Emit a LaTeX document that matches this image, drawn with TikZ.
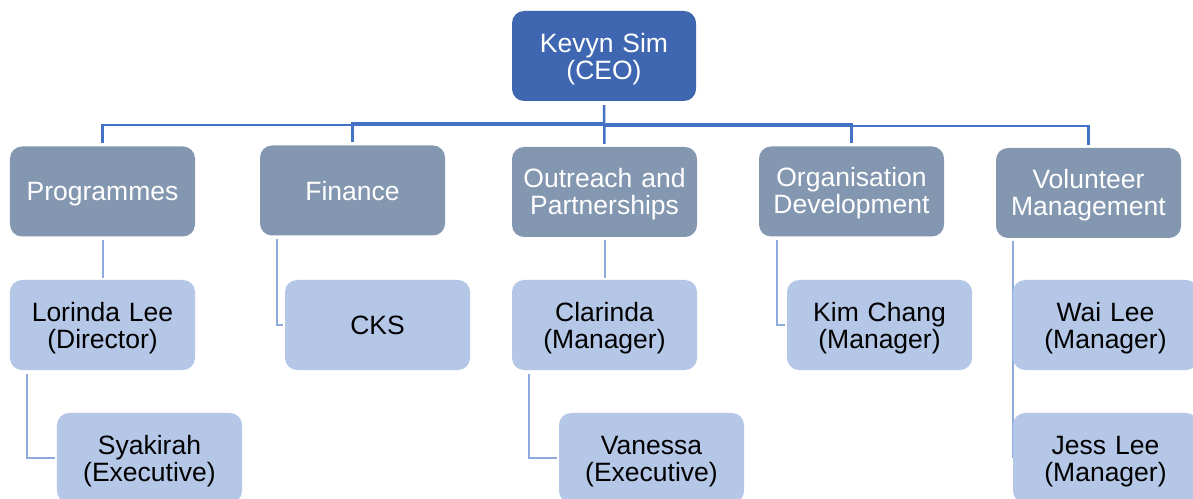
\documentclass[tikz,border=0pt]{standalone}
\usepackage{fontspec}
\setmainfont{Liberation Sans}
\usetikzlibrary{backgrounds,calc}
\definecolor{ceoblue}{HTML}{3F67B1}
\definecolor{deptgray}{HTML}{8497B0}
\definecolor{staffblue}{HTML}{B4C7E7}
\definecolor{linemain}{HTML}{4472C4}
\definecolor{linesub}{HTML}{8FAADC}
\begin{document}
\begin{tikzpicture}[x=1bp,y=-1bp,
  box/.style={rounded corners=12bp, minimum width=185bp, minimum height=90bp,
    text width=180bp, align=center, inner sep=0pt, text depth=26bp,
    font=\fontsize{26.5bp}{27bp}\selectfont},
  oneline/.style={text depth=-1bp},
  raised/.style={text depth=29bp},
  ceobox/.style={box, fill=ceoblue, text=white, minimum width=184bp},
  deptbox/.style={box, fill=deptgray, text=white},
  staffbox/.style={box, fill=staffblue, text=black},
  mainline/.style={draw=linemain, line width=2.5bp, shorten <=4bp, shorten >=3bp},
  subline/.style={draw=linesub, line width=2bp, shorten <=3bp, shorten >=2bp}]
\useasboundingbox (0,0) rectangle (1193,499);
\clip (0,0) rectangle (1193,499);

\node[ceobox] (ceo) at (604,56) {Kevyn Sim\\(CEO)};

\node[deptbox, oneline] (prog) at (102.5,191.5) {Programmes};
\node[deptbox, oneline] (fin) at (352.5,190.5) {Finance};
\node[deptbox, raised] (out) at (604.5,192) {Outreach and\\Partnerships};
\node[deptbox, raised] (org) at (851.5,191.5) {Organisation\\Development};
\node[deptbox, raised] (vol) at (1088.5,193) {Volunteer\\Management};

\node[staffbox] (lor) at (102.5,325) {Lorinda Lee\\(Director)};
\node[staffbox, oneline] (cks) at (377.5,325) {CKS};
\node[staffbox] (cla) at (604.5,325) {Clarinda\\(Manager)};
\node[staffbox] (kim) at (879.5,325) {Kim Chang\\(Manager)};
\node[staffbox] (wai) at (1105.5,325) {Wai Lee\\(Manager)};

\node[staffbox] (sya) at (149.5,458) {Syakirah\\(Executive)};
\node[staffbox] (van) at (651.5,458) {Vanessa\\(Executive)};
\node[staffbox] (jess) at (1105.5,458) {Jess Lee\\(Manager)};

\begin{pgfonlayer}{background}
  \fill[white] (0,0) rectangle (1193,499);
  % CEO to departments
  \draw[mainline] (ceo.south) -- (ceo.south |- 0,125) -| (prog.north);
  \draw[mainline] (ceo.south) -- (ceo.south |- 0,123) -| (fin.north);
  \draw[mainline] (ceo.south) -- (out.north);
  \draw[mainline] (ceo.south) -- (ceo.south |- 0,124) -| (org.north);
  \draw[mainline] (ceo.south) -- (ceo.south |- 0,126) -| (vol.north);
  % departments to staff
  \draw[subline] (prog.south) -- (lor.north);
  \draw[subline] (out.south) -- (cla.north);
  \draw[subline] ([xshift=17bp]fin.south west) |- (cks.west);
  \draw[subline] ([xshift=18bp]org.south west) |- (kim.west);
  \draw[subline, shorten >=0bp] ([xshift=17bp]vol.south west) |- (wai.west);
  \draw[subline, shorten >=0bp] ([xshift=17bp]vol.south west) |- (jess.west);
  % staff to staff
  \draw[subline, shorten <=4bp] ([xshift=17bp]lor.south west) |- (sya.west);
  \draw[subline, shorten <=4bp] ([xshift=17bp]cla.south west) |- (van.west);
\end{pgfonlayer}
\end{tikzpicture}
\end{document}
